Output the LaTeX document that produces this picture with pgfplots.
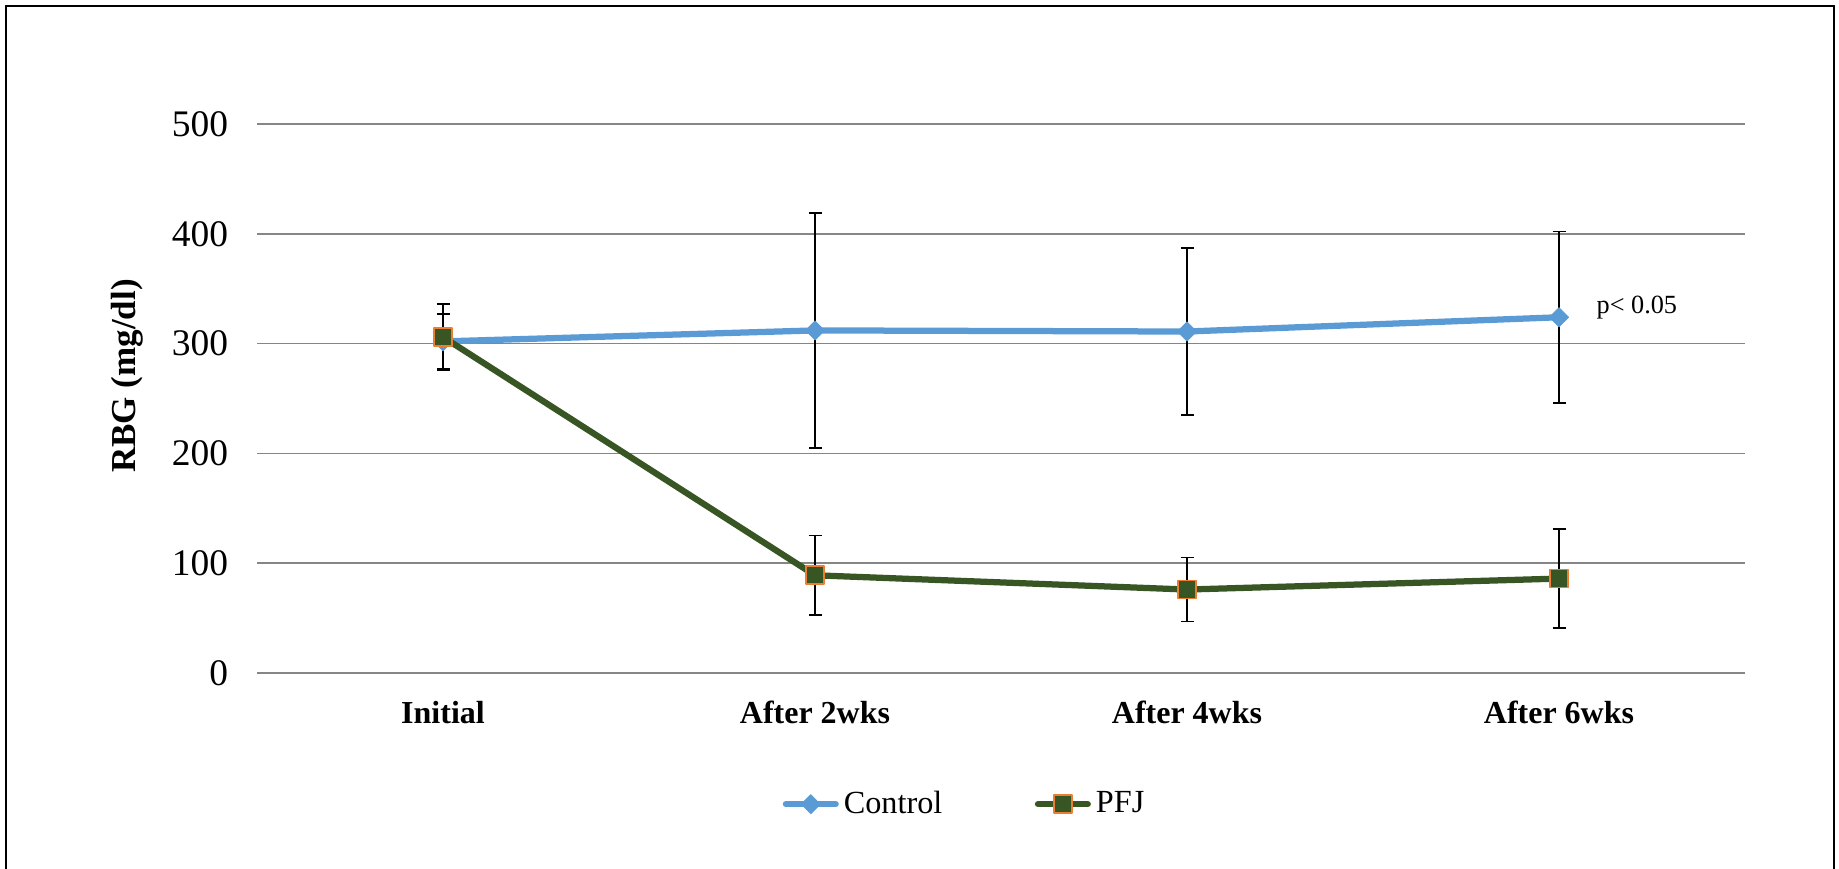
\documentclass[border=0pt]{standalone}
\usepackage{pgfplots}
\pgfplotsset{compat=1.18}
\usepackage{fontspec}
\setmainfont{Liberation Serif}
\definecolor{ctrlblue}{RGB}{91,155,213}
\definecolor{pfjgreen}{RGB}{55,86,35}
\definecolor{pfjorange}{RGB}{237,125,49}
\definecolor{gridgray}{RGB}{134,134,134}
\begin{document}
\begin{tikzpicture}
\useasboundingbox (0,0) rectangle (735.6pt,347.6pt);
\draw[line width=0.8pt] (2.4pt,-3pt) -- (2.4pt,345.2pt) -- (733.6pt,345.2pt) -- (733.6pt,-3pt);
\begin{axis}[
  at={(102.8pt,78.4pt)}, anchor=south west,
  scale only axis,
  width=595.2pt, height=219.6pt,
  xmin=-0.5, xmax=3.5, ymin=0, ymax=500,
  xtick={0,1,2,3},
  xticklabels={Initial,After 2wks,After 4wks,After 6wks},
  ytick={0,100,200,300,400,500},
  axis line style={draw=none},
  major tick length=0pt,
  ymajorgrids, grid style={gridgray, line width=0.6pt},
  /pgf/number format/assume math mode=true,
  yticklabel style={font=\fontsize{15}{18}\selectfont, xshift=-8pt},
  xticklabel style={font=\fontsize{12.8}{15}\selectfont\bfseries, yshift=-7.7pt},
  ylabel={RBG (mg/dl)},
  ylabel style={font=\fontsize{14}{17}\selectfont\bfseries, at={(axis description cs:-0.0874,0.541)}, anchor=center, rotate=0},
  legend columns=2,
  legend style={at={(0.353,-0.239)}, anchor=west, draw=none, fill=none, inner sep=0pt,
    font=\fontsize{12.9}{15}\selectfont,
    nodes={inner sep=2pt},
    /tikz/every even column/.append style={column sep=35pt}},
  legend cell align=left,
  legend image code/.code={\draw[mark repeat=2,mark phase=2] plot coordinates {(0cm,0cm) (0.35cm,0cm) (0.7cm,0cm)};},
  clip=false,
]
\addplot+[color=ctrlblue, line width=2.5pt, line cap=round, line join=round,
  mark=square*, mark size=2.7pt, mark options={rotate=45, fill=ctrlblue, draw=ctrlblue, line width=0.3pt},
  error bars/.cd, y dir=both, y explicit,
  error bar style={black, line width=0.6pt},
  error mark options={rotate=90, black, mark size=2.6pt, line width=0.6pt}]
  coordinates {
  (0,302) +- (0,25)
  (1,312) +- (0,107)
  (2,311) +- (0,76)
  (3,324) +- (0,78)
  };
\addlegendentry{Control}
\addplot+[color=pfjgreen, line width=2.5pt, line cap=round, line join=round,
  mark=square*, mark size=3.6pt, mark options={fill=pfjgreen, draw=pfjorange, line width=0.7pt},
  error bars/.cd, y dir=both, y explicit,
  error bar style={black, line width=0.6pt},
  error mark options={rotate=90, black, mark size=2.6pt, line width=0.6pt}]
  coordinates {
  (0,306) +- (0,30)
  (1,89) +- (0,36)
  (2,76) +- (0,29)
  (3,86) +- (0,45)
  };
\addlegendentry{PFJ}
\node[anchor=west, font=\fontsize{10.5}{12}\selectfont, inner sep=0pt] at (axis cs:3.10,333) {p< 0.05};
\end{axis}
\end{tikzpicture}
\end{document}
